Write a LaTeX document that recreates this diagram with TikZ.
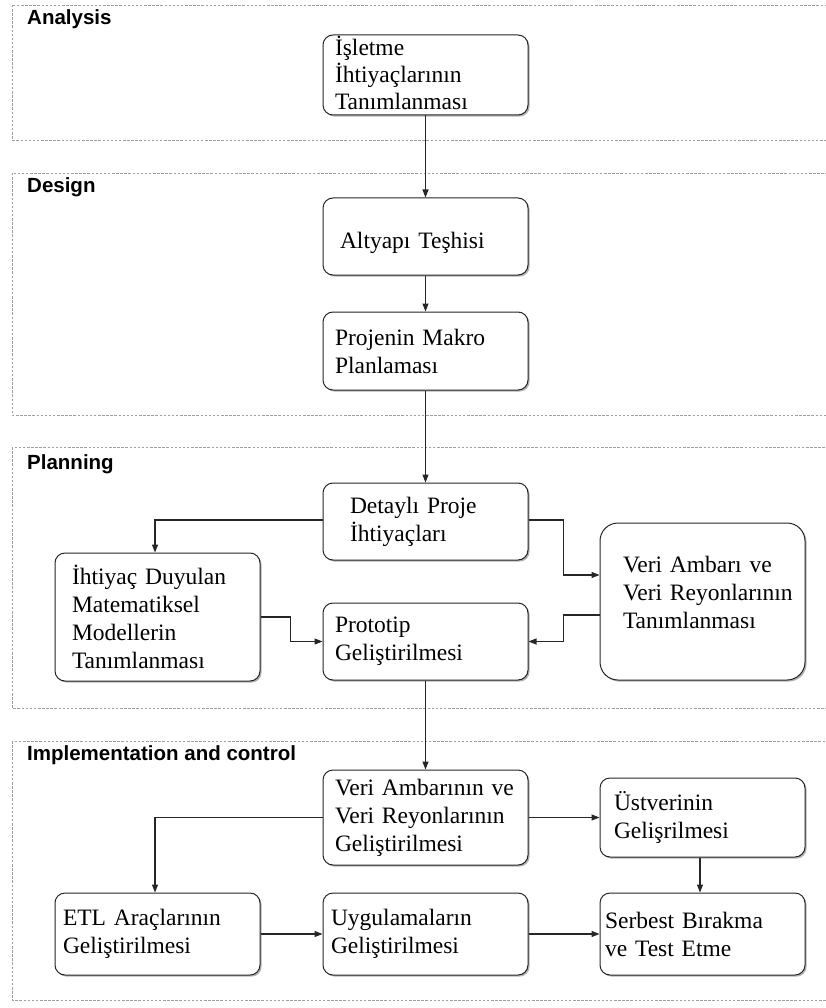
\documentclass[tikz,border=0pt]{standalone}
\usepackage{fontspec}
\setmainfont{Liberation Serif}
\newfontfamily\lblfont{Liberation Sans}[FakeStretch=1.0]
\usetikzlibrary{arrows.meta,shadows}
\lefthyphenmin=64
\hyphenpenalty=10000
\hbadness=10000
\hfuzz=200pt
\begin{document}
\begin{tikzpicture}[x=1pt,y=-1pt,
  band/.style={draw=gray!75, line width=0.9pt, dash pattern=on 2.5pt off 1.6pt},
  bandlbl/.style={anchor=west, inner sep=0pt, font=\lblfont\bfseries\fontsize{20.5}{22}\selectfont},
  box/.style={draw=black!85, line width=1pt, fill=white, rounded corners=10pt,
     minimum width=205pt, inner xsep=0pt, inner ysep=2pt, align=left,
     font=\fontsize{23.5}{28}\selectfont,
     drop shadow={shadow xshift=1.6pt, shadow yshift=-1.6pt, fill=black!55, opacity=0.55}},
  arr/.style={draw=black!85, line width=1.15pt, -{Triangle[length=8pt,width=6pt]}}
]
\useasboundingbox (0,0) rectangle (826,1008);
% bands
\draw[band] (12,5) rectangle (836,140);
\draw[band] (12,173) rectangle (836,415);
\draw[band] (12,447) rectangle (836,708);
\draw[band] (12,741) rectangle (836,1000);
\node[bandlbl] (lA) at (27,19) {Analysis};
\node[bandlbl] (lD) at (27,187) {Design};
\node[bandlbl] (lP) at (27,464) {Planning};
\node[bandlbl] (lI) at (27,755) {Implementation and control};
% boxes
\node[box, minimum height=80pt, text width=181pt, text height=18pt, text depth=57pt, font=\fontsize{23.5}{27}\selectfont] (b1) at (425.5,75) {İşletme\\İhtiyaçlarının\\Tanımlanması};
\node[box, minimum height=77pt, text width=171pt] (b2) at (425.5,236.5) {\rule{0pt}{30pt}Altyapı~Teşhisi};
\node[box, minimum height=78pt, text width=181pt] (b3) at (425.5,351) {Projenin~Makro\\Planlaması};
\node[box, minimum height=77pt, text width=151pt] (b4) at (425.5,521.5) {Detaylı~Proje\\İhtiyaçları};
\node[box, minimum height=128pt, text width=171pt] (b5) at (157.5,617) {İhtiyaç~Duyulan\\Matematiksel\\Modellerin\\Tanımlanması};
\node[box, minimum height=77pt, text width=181pt] (b6) at (425.5,641.5) {Prototip\\Geliştirilmesi};
\node[box, minimum height=157pt, text width=159pt, rounded corners=18pt] (b7) at (702.5,601.5) {Veri~Ambarı~ve\\Veri~Reyonlarının\\Tanımlanması\rule[-19pt]{0pt}{1pt}};
\node[box, minimum height=95pt, text width=181pt] (b8) at (425.5,817.5) {Veri~Ambarının~ve\\Veri~Reyonlarının\\Geliştirilmesi};
\node[box, minimum height=79pt, text width=177pt] (b9) at (702.5,817.5) {Üstverinin\\Gelişrilmesi};
\node[box, minimum height=82pt, text width=189pt] (b10) at (157.5,934) {ETL~Araçlarının\\Geliştirilmesi};
\node[box, minimum height=82pt, text width=189pt] (b11) at (425.5,934) {Uygulamaların\\Geliştirilmesi};
\node[box, minimum height=82pt, text width=195pt] (b12) at (702.5,934) {Serbest~Bırakma\\ve~Test~Etme};
% connectors
\draw[arr] (b1.south) -- (b2.north);
\draw[arr] (b2.south) -- (b3.north);
\draw[arr] (b3.south) -- (b4.north);
\draw[arr] ([yshift=1.5pt]b4.west) -| ([xshift=-2.5pt]b5.north);
\draw[arr] ([yshift=1.5pt]b4.east) -- ++(35,0) |- ([yshift=26.5pt]b7.west);
\draw[arr] (b5.east) -- ++(30,0) |- (b6.west);
\draw[arr] ([yshift=-13.5pt]b7.west) -- ++(-36,0) |- (b6.east);
\draw[arr] (b6.south) -- (b8.north);
\draw[arr] (b8.west) -| ([xshift=-2.5pt]b10.north);
\draw[arr] (b8.east) -- (b9.west);
\draw[arr] ([xshift=-2.5pt]b9.south) -- ([xshift=-2.5pt]b12.north);
\draw[arr] (b10.east) -- (b11.west);
\draw[arr] (b11.east) -- (b12.west);
\end{tikzpicture}
\end{document}
